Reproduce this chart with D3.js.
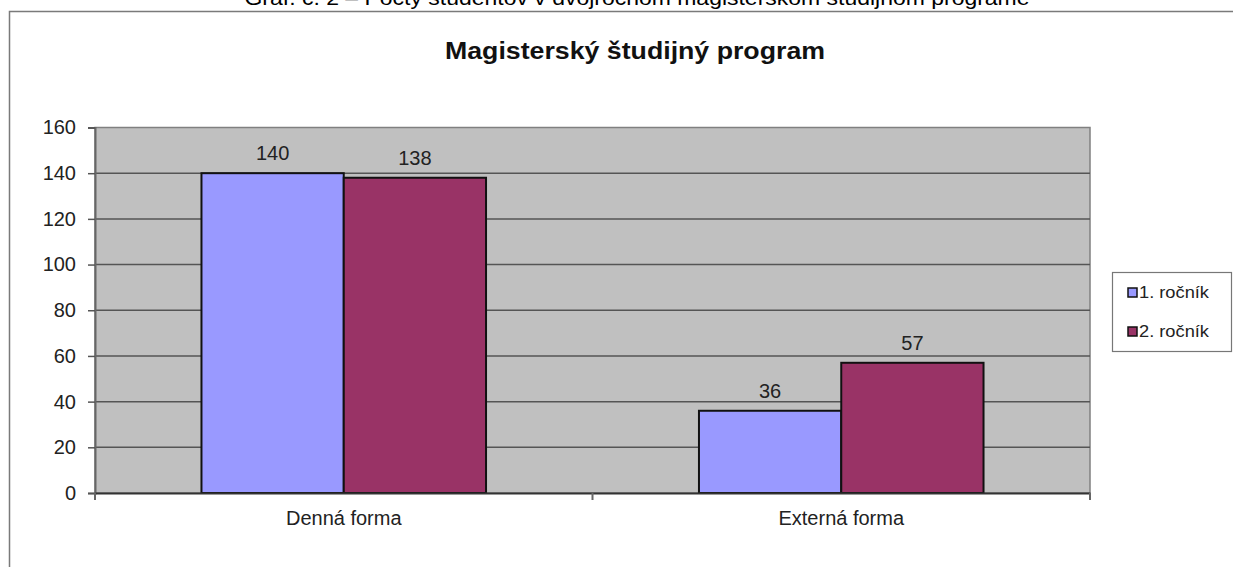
<!DOCTYPE html>
<html>
<head>
<meta charset="utf-8">
<script src="https://cdn.jsdelivr.net/npm/d3@7"></script>
<style>
  body { margin: 0; background: #fff; }
  svg { display: block; font-family: "Liberation Sans", Arial, sans-serif; }
</style>
</head>
<body>
<script>
// data
const categories = ["Denná forma", "Externá forma"];
const seriesNames = ["1. ročník", "2. ročník"];
const values1 = [140, 36];
const values2 = [138, 57];
const yTicks = [0, 20, 40, 60, 80, 100, 120, 140, 160];
const caption = "Graf. č. 2 – Počty študentov v dvojročnom magisterskom študijnom programe";
const chartTitle = "Magisterský študijný program";

const colors = ["#9999ff", "#993366"];
const w = 1233, h = 567;
const plotL = 95, plotR = 1090, plotT = 127.5, plotB = 493;

const rows = categories.map((c, i) => ({cat: c, vals: [values1[i], values2[i]]}));

const svg = d3.select("body").append("svg")
  .attr("width", w).attr("height", h);

// caption (cut at the top, as in the source)
svg.append("text")
  .attr("x", 637).attr("y", 5)
  .attr("text-anchor", "middle")
  .attr("font-size", 21)
  .attr("textLength", 785)
  .attr("lengthAdjust", "spacingAndGlyphs")
  .attr("fill", "#000")
  .text(caption);

// outer chart frame
svg.append("path")
  .attr("d", "M9.5," + h + "V11.5H" + w)
  .attr("fill", "none")
  .attr("stroke", "#7a7a7a")
  .attr("stroke-width", 1.5);

svg.append("text")
  .attr("x", 635).attr("y", 59)
  .attr("text-anchor", "middle")
  .attr("font-size", 23)
  .attr("font-weight", "bold")
  .attr("textLength", 380)
  .attr("lengthAdjust", "spacingAndGlyphs")
  .attr("fill", "#111")
  .text(chartTitle);

const x0 = d3.scaleBand().domain(categories).range([plotL, plotR])
  .paddingInner(0.428).paddingOuter(0.214);
const x1 = d3.scaleBand().domain([0, 1]).range([0, x0.bandwidth()]);
const y = d3.scaleLinear().domain([0, 160]).range([plotB, plotT]);

// plot background
svg.append("rect")
  .attr("x", plotL).attr("y", plotT)
  .attr("width", plotR - plotL).attr("height", plotB - plotT)
  .attr("fill", "#c0c0c0")
  .attr("stroke", "#808080").attr("stroke-width", 1.5);

// gridlines
svg.append("g").selectAll("line")
  .data(yTicks.filter(d => d > 0 && d < 160))
  .enter().append("line")
  .attr("x1", plotL).attr("x2", plotR)
  .attr("y1", d => y(d)).attr("y2", d => y(d))
  .attr("stroke", "#555").attr("stroke-width", 1.5);

// y axis
const yAxis = d3.axisLeft(y).tickValues(yTicks).tickSize(7).tickPadding(12);
const gy = svg.append("g")
  .attr("transform", "translate(" + plotL + ",0)")
  .call(yAxis);
gy.select(".domain").attr("stroke", "#666").attr("stroke-width", 2);
gy.selectAll(".tick line").attr("stroke", "#555").attr("stroke-width", 1.5);
gy.selectAll(".tick text")
  .attr("font-size", 20).attr("font-family", "Liberation Sans, Arial, sans-serif")
  .attr("fill", "#222");

// bars
const groups = svg.append("g").selectAll("g")
  .data(rows).enter().append("g")
  .attr("transform", d => "translate(" + x0(d.cat) + ",0)");

groups.selectAll("rect")
  .data(d => d.vals.map((v, i) => ({v: v, i: i})))
  .enter().append("rect")
  .attr("x", d => x1(d.i))
  .attr("y", d => y(d.v))
  .attr("width", x1.bandwidth())
  .attr("height", d => plotB - y(d.v))
  .attr("fill", d => colors[d.i])
  .attr("stroke", "#111").attr("stroke-width", 2);

groups.selectAll("text")
  .data(d => d.vals.map((v, i) => ({v: v, i: i})))
  .enter().append("text")
  .attr("x", d => x1(d.i) + x1.bandwidth() / 2)
  .attr("y", d => y(d.v) - 13)
  .attr("text-anchor", "middle")
  .attr("font-size", 20)
  .attr("fill", "#222")
  .text(d => d.v);

// x axis
const xAxis = d3.axisBottom(x0).tickSize(0).tickPadding(18);
const gx = svg.append("g")
  .attr("transform", "translate(0," + plotB + ")")
  .call(xAxis);
gx.select(".domain").attr("stroke", "#333").attr("stroke-width", 2);
gx.selectAll(".tick text")
  .attr("font-size", 20).attr("font-family", "Liberation Sans, Arial, sans-serif")
  .attr("fill", "#222");

// category separators on x axis
const seps = [plotL, (x0(categories[0]) + x0.bandwidth() + x0(categories[1])) / 2, plotR];
svg.append("g").selectAll("line")
  .data(seps).enter().append("line")
  .attr("x1", d => d).attr("x2", d => d)
  .attr("y1", plotB).attr("y2", plotB + 7)
  .attr("stroke", "#666").attr("stroke-width", 2);

// legend
const legend = svg.append("g");
legend.append("rect")
  .attr("x", 1112.5).attr("y", 272.5)
  .attr("width", 119).attr("height", 79)
  .attr("fill", "#fff").attr("stroke", "#777").attr("stroke-width", 1.2);

const li = legend.selectAll("g.item")
  .data(seriesNames).enter().append("g")
  .attr("transform", (d, i) => "translate(1128," + (288 + i * 39) + ")");
li.append("rect")
  .attr("width", 9).attr("height", 9)
  .attr("fill", (d, i) => colors[i])
  .attr("stroke", "#111").attr("stroke-width", 1.5);
li.append("text")
  .attr("x", 11).attr("y", 10)
  .attr("font-size", 16)
  .attr("textLength", 70)
  .attr("lengthAdjust", "spacingAndGlyphs")
  .attr("fill", "#222")
  .text(d => d);
</script>
</body>
</html>
